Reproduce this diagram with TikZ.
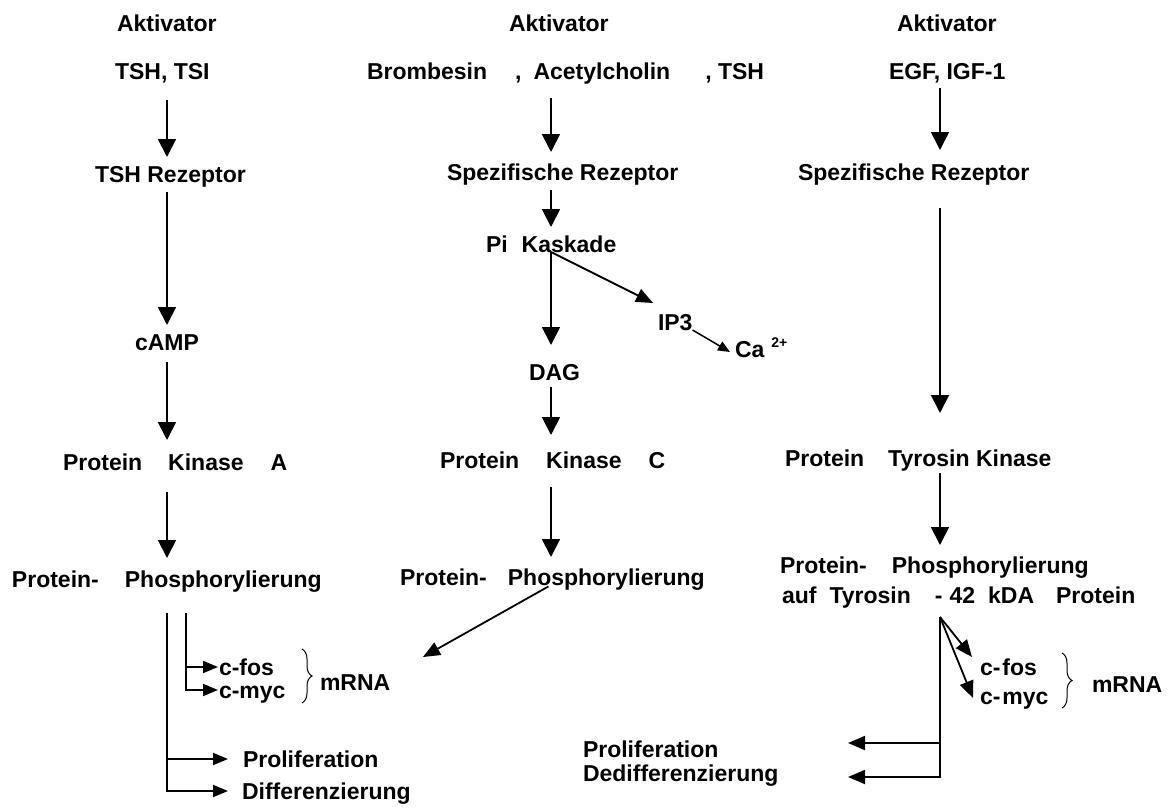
\documentclass[tikz,border=0pt]{standalone}
\usepackage{fontspec}
\setmainfont{Liberation Sans}
\usetikzlibrary{arrows.meta,decorations.pathreplacing,calc}
\newcommand{\lbf}{\fontsize{23}{27}\selectfont\bfseries}
\tikzset{
  lbl/.style={inner sep=0pt,outer sep=0pt,anchor=base west,font=\lbf,
              text height=16pt,text depth=0pt},
  plain/.style={line width=1.8pt},
  arr/.style={-{Triangle[length=18pt,width=18pt]},line width=1.8pt},
  harr/.style={-{Triangle[length=17pt,width=14pt]},line width=1.8pt},
  sarr/.style={-{Triangle[length=15pt,width=12pt]},line width=1.8pt},
  tarr/.style={-{Triangle[length=12pt,width=10pt]},line width=1.5pt},
  brc/.style={decorate,decoration={brace,amplitude=10pt},line width=1pt},
}
\begin{document}
\begin{tikzpicture}[x=1pt,y=-1pt]
  \useasboundingbox (0,0) rectangle (1173,808);
  \coordinate (c1) at (167,0);
  \coordinate (c2) at (551,0);
  \coordinate (c3) at (940,0);

  % TSH path
  \node[lbl] (akt1) at (117,32) {Aktivator};
  \node[lbl] (tsh1) at (115,80) {TSH, TSI};
  \node[lbl] (rez1) at (95,182) {TSH Rezeptor};
  \node[lbl] (camp) at (135,350) {cAMP};
  \node[lbl] (pka) at (63,470) {Protein\hspace{26pt}Kinase\hspace{27pt}A};
  \node[lbl] (pp1) at (12,587) {Protein-\hspace{26pt}Phosphorylierung};
  \node[lbl] (fos1) at (219,675) {c-fos};
  \node[lbl] (myc1) at (219,698) {c-myc};
  \node[lbl] (mrna1) at (320,690) {mRNA};
  \node[lbl] (prol1) at (243,767) {Proliferation};
  \node[lbl] (diff1) at (242,799) {Differenzierung};

  \draw[arr,shorten <=20pt,shorten >=9pt] (tsh1.south -| c1) -- (rez1.north -| c1);
  \draw[arr,shorten <=10pt,shorten >=9pt] (rez1.south -| c1) -- (camp.north -| c1);
  \draw[arr,shorten <=12pt,shorten >=14pt] (camp.south -| c1) -- (pka.north -| c1);
  \draw[arr,shorten <=22pt,shorten >=13pt] (pka.south -| c1) -- (pp1.north -| c1);

  \coordinate (b1) at ([yshift=-26pt]pp1.south -| c1);
  \coordinate (b2) at (186,613);
  \draw[sarr] (b1) |- ([xshift=-14pt]diff1.west);
  \draw[sarr] (b1 |- prol1.west) -- ([xshift=-15pt]prol1.west);
  \draw[sarr] (b2) |- ([xshift=-1pt]myc1.west);
  \draw[sarr] (b2 |- fos1.west) -- ([xshift=-1pt]fos1.west);
  \draw[brc] (302,649) -- (302,703);

  % Pi path
  \node[lbl] (akt2) at (509,32) {Aktivator};
  \node[lbl] (agon2) at (367,80) {Brombesin\hspace{28pt},\hspace{12pt}Acetylcholin\hspace{35pt}, TSH};
  \node[lbl] (rez2) at (447,180) {Spezifische Rezeptor};
  \node[lbl] (pi) at (486,252) {Pi\hspace{14pt}Kaskade};
  \node[lbl] (ip3) at (658,330) {IP3};
  \node[lbl] (ca) at (735,357) {Ca\hspace{7pt}\raisebox{10pt}{\fontsize{14}{14}\selectfont 2+}};
  \node[lbl] (dag) at (529,380) {DAG};
  \node[lbl] (pkc) at (440,468) {Protein\hspace{27pt}Kinase\hspace{27pt}C};
  \node[lbl] (pp2) at (400,585) {Protein-\hspace{21pt}Phosphorylierung};

  \draw[arr,shorten <=18pt,shorten >=12pt] (agon2.south -| c2) -- (rez2.north -| c2);
  \draw[arr,shorten <=10pt,shorten >=9pt] (rez2.south -| c2) -- (pi.north -| c2);
  \coordinate (pib) at (pi.south -| c2);
  \draw[arr,shorten >=19pt] (pib) -- (dag.north -| c2);
  \draw[harr] (pib) -- ([xshift=-5pt,yshift=11pt]ip3.north west);
  \draw[tarr] (ip3.south east) -- ([xshift=-5pt,yshift=-3pt]ca.west);
  \draw[arr,shorten <=7pt,shorten >=17pt] (dag.south -| c2) -- (pkc.north -| c2);
  \draw[arr,shorten <=19pt,shorten >=12pt] (pkc.south -| c2) -- (pp2.north -| c2);
  \coordinate (pps) at (pp2.south -| c2);
  \coordinate (mtip) at (423,657);
  \draw[harr,shorten <=3pt] (pps) -- (mtip);

  % tyrosine kinase path
  \node[lbl] (akt3) at (897,32) {Aktivator};
  \node[lbl] (egf) at (889,80) {EGF, IGF-1};
  \node[lbl] (rez3) at (798,180) {Spezifische Rezeptor};
  \node[lbl] (ptk) at (785,466) {Protein\hspace{24pt}Tyrosin Kinase};
  \node[lbl] (pp3) at (780,573) {Protein-\hspace{25pt}Phosphorylierung};
  \node[lbl] (auf) at (782,603) {auf\hspace{13pt}Tyrosin\hspace{24pt}-\hspace{7pt}42\hspace{13pt}kDA\hspace{22pt}Protein};
  \node[lbl] (fos3) at (980,675) {c-\hspace{2pt}fos};
  \node[lbl] (myc3) at (980,704) {c-\hspace{2pt}myc};
  \node[lbl] (mrna3) at (1092,692) {mRNA};
  \node[lbl] (prol3) at (583,757) {Proliferation};
  \node[lbl] (ded3) at (583,781) {Dedifferenzierung};

  \draw[arr,shorten <=8pt,shorten >=14pt] (egf.south -| c3) -- (rez3.north -| c3);
  \draw[arr,shorten <=28pt,shorten >=37pt] (rez3.south -| c3) -- (ptk.north -| c3);
  \draw[arr,shorten <=7pt,shorten >=12pt] (ptk.south -| c3) -- (pp3.north -| c3);

  \coordinate (tb) at ([yshift=-14pt]auf.south -| c3);
  \coordinate (tipP) at (848,743);
  \coordinate (tipD) at (848,777);
  \draw[harr] (tb) |- (tipD);
  \draw[harr] (tb |- tipP) -- (tipP);
  \draw[harr] (tb) -- ([xshift=-8pt,yshift=2pt]fos3.north west);
  \draw[harr] (tb) -- ([xshift=-7pt,yshift=-2pt]myc3.west);
  \draw[brc] (1062,653) -- (1062,708);
\end{tikzpicture}
\end{document}
